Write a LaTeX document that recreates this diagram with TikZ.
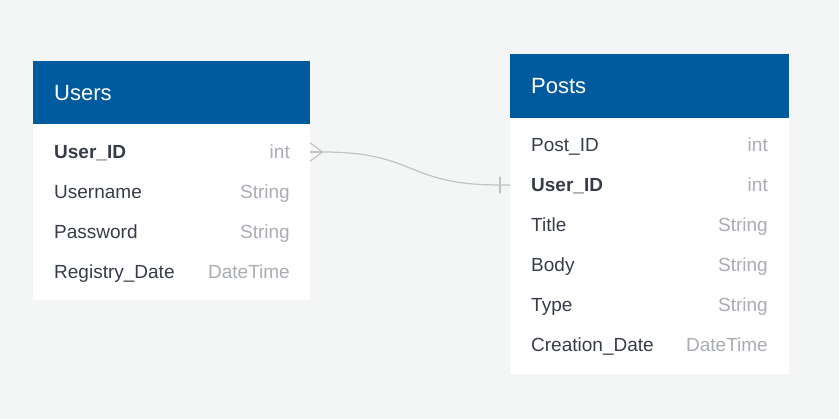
\documentclass[tikz,border=0pt]{standalone}
\usepackage{fontspec}
\setmainfont{Liberation Sans}
\definecolor{bg}{HTML}{F4F6F5}
\definecolor{hdr}{HTML}{005A9E}
\definecolor{txt}{HTML}{363D48}
\definecolor{typ}{HTML}{A9ADB2}
\definecolor{conn}{HTML}{C2C4C4}
\tikzset{
  hdrbox/.style={fill=hdr, draw=none, inner sep=0, anchor=north west},
  bodybox/.style={fill=white, draw=none, inner sep=0, anchor=north west},
  hdrtxt/.style={anchor=mid west, inner sep=0, text=white, font=\fontsize{22}{25}\selectfont},
  fname/.style={anchor=mid west, inner sep=0, text=txt, font=\fontsize{19}{22}\selectfont},
  fkey/.style={fname, font=\fontsize{19}{22}\selectfont\bfseries},
  ftype/.style={anchor=mid east, inner sep=0, text=typ, font=\fontsize{19}{22}\selectfont},
  rel/.style={draw=conn, line width=1.2pt, line cap=round},
}
\begin{document}
\begin{tikzpicture}[x=1pt,y=-1pt]
\fill[bg] (0,0) rectangle (839,419);
\useasboundingbox (0,0) rectangle (839,419);

% Users table
\node[hdrbox, minimum width=277pt, minimum height=63pt] (usershdr) at (33,61) {};
\node[bodybox, minimum width=277pt, minimum height=176pt] (usersbody) at (33,124) {};
\node[hdrtxt] (userstitle) at (54,98) {Users};
\node[fkey] (uid) at (54,156) {User\_ID};
\node[ftype] (uidt) at (290,156) {int};
\node[fname] (uname) at (54,196) {Username};
\node[ftype] (unamet) at (290,196) {String};
\node[fname] (upass) at (54,236) {Password};
\node[ftype] (upasst) at (290,236) {String};
\node[fname] (ureg) at (54,276) {Registry\_Date};
\node[ftype] (uregt) at (290,276) {DateTime};

% Posts table
\node[hdrbox, minimum width=279pt, minimum height=64pt] (postshdr) at (510,54) {};
\node[bodybox, minimum width=279pt, minimum height=256pt] (postsbody) at (510,118) {};
\node[hdrtxt] (poststitle) at (531,91) {Posts};
\node[fname] (pid) at (531,149) {Post\_ID};
\node[ftype] (pidt) at (768,149) {int};
\node[fkey] (puid) at (531,189) {User\_ID};
\node[ftype] (puidt) at (768,189) {int};
\node[fname] (ptitle) at (531,229) {Title};
\node[ftype] (ptitlet) at (768,229) {String};
\node[fname] (pbody) at (531,269) {Body};
\node[ftype] (pbodyt) at (768,269) {String};
\node[fname] (ptype) at (531,309) {Type};
\node[ftype] (ptypet) at (768,309) {String};
\node[fname] (pcre) at (531,349) {Creation\_Date};
\node[ftype] (pcret) at (768,349) {DateTime};

% Relationship
\coordinate (uedge) at ([yshift=4pt]usersbody.east |- uid.mid);
\coordinate (pedge) at ([yshift=4pt]postsbody.west |- puid.mid);
\coordinate (ufoot) at ([xshift=12pt]uedge);
\coordinate (pbar) at ([xshift=-10pt]pedge);
\draw[rel] (ufoot) -- ([yshift=-9pt]uedge);
\draw[rel] (ufoot) -- (uedge);
\draw[rel] (ufoot) -- ([yshift=9pt]uedge);
\draw[rel] (ufoot) .. controls ([xshift=95pt]ufoot) and ([xshift=-95pt]pbar) .. (pbar) -- (pedge);
\draw[rel] ([yshift=-8pt]pbar) -- ([yshift=8pt]pbar);
\end{tikzpicture}
\end{document}
